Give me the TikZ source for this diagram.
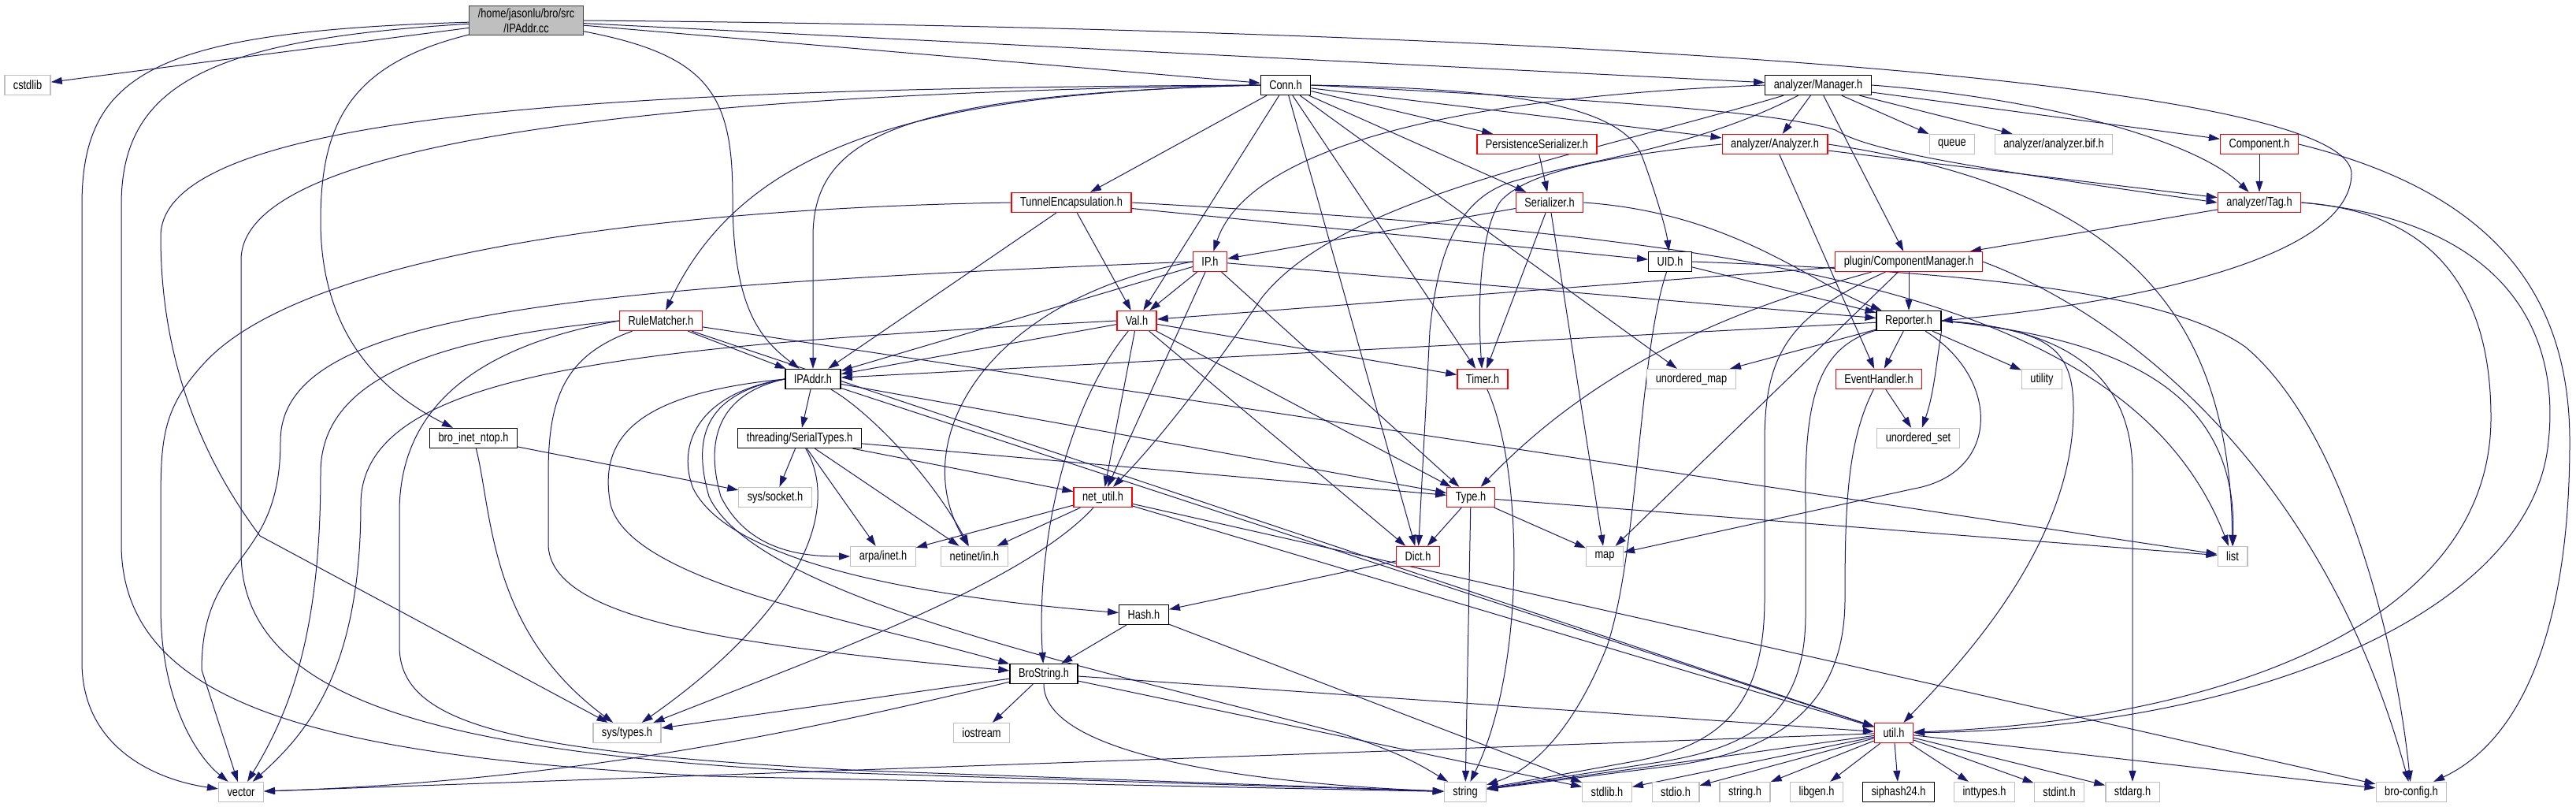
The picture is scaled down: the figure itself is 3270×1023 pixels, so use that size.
\documentclass[tikz,border=0pt]{standalone}
\usepackage{fontspec}
\setmainfont{Liberation Sans}[FakeStretch=0.8]
\usetikzlibrary{arrows.meta,positioning}
\definecolor{incblue}{HTML}{191970}
\definecolor{sysgray}{HTML}{BFBFBF}
\pgfdeclarelayer{edges}
\pgfsetlayers{edges,main}

\begin{document}
\begin{tikzpicture}[
  x=1pt, y=-1pt,
  font=\fontsize{16}{19}\selectfont,
  hdr/.style={draw, line width=1.3pt, fill=white, minimum height=25pt,
              inner xsep=11pt, inner ysep=0pt},
  sysbox/.style={hdr, draw=sysgray},
  redbox/.style={hdr, draw=red},
  blkbox/.style={hdr, draw=black},
  rootbox/.style={hdr, fill=sysgray, draw=black!75, align=center, inner ysep=3pt},
  inc/.style={draw=incblue, line width=1pt, -{Triangle[length=14pt,width=9pt]}},
]
\useasboundingbox (0,0) rectangle (3270,1023);

% ---------------- rows ----------------
\def\yA{26}
\def\yB{108}
\def\yC{183}
\def\yD{257}
\def\yE{332}
\def\yF{407}
\def\yG{481}
\def\yH{556}
\def\yI{631}
\def\yJ{706}
\def\yK{780}
\def\yL{855}
\def\yM{930}
\def\yN{1005}

% ---------------- files ----------------
\node[rootbox] (cc) at (668,\yA) {/home/jasonlu/bro/src\\/IPAddr.cc};

\node[sysbox] (cstdlib) at (35,\yB) {cstdlib};
\node[blkbox] (conn) at (1632,\yB) {Conn.h};
\node[blkbox] (mgr) at (2308,\yB) {analyzer/Manager.h};

\node[redbox] (persist) at (1951,\yC) {PersistenceSerializer.h};
\node[redbox] (analyzer) at (2253,\yC) {analyzer/Analyzer.h};
\node[sysbox] (queue) at (2478,\yC) {queue};
\node[sysbox] (bif) at (2607,\yC) {analyzer/analyzer.bif.h};
\node[redbox] (comp) at (2868,\yC) {Component.h};

\node[redbox] (tunnel) at (1360,\yD) {TunnelEncapsulation.h};
\node[redbox] (ser) at (1967,\yD) {Serializer.h};
\node[redbox] (tag) at (2868,\yD) {analyzer/Tag.h};

\node[redbox] (iph) at (1536,\yE) {IP.h};
\node[blkbox] (uid) at (2120,\yE) {UID.h};
\node[redbox] (compmgr) at (2423,\yE) {plugin/ComponentManager.h};

\node[redbox] (rule) at (839,\yF) {RuleMatcher.h};
\node[redbox] (val) at (1443,\yF) {Val.h};
\node[blkbox] (rep) at (2423,\yF) {Reporter.h};

\node[blkbox] (addrh) at (1032,\yG) {IPAddr.h};
\node[redbox] (timer) at (1882,\yG) {Timer.h};
\node[sysbox] (umap) at (2147,\yG) {unordered\_map};
\node[redbox] (evh) at (2385,\yG) {EventHandler.h};
\node[sysbox] (utility) at (2592,\yG) {utility};

\node[blkbox] (ntop) at (601,\yH) {bro\_inet\_ntop.h};
\node[blkbox] (serial) at (1015,\yH) {threading/SerialTypes.h};
\node[sysbox] (uset) at (2435,\yH) {unordered\_set};

\node[sysbox] (socket) at (984,\yI) {sys/socket.h};
\node[redbox] (netutil) at (1400,\yI) {net\_util.h};
\node[redbox] (typeh) at (1867,\yI) {Type.h};

\node[sysbox] (arpa) at (1121,\yJ) {arpa/inet.h};
\node[sysbox] (netinet) at (1237,\yJ) {netinet/in.h};
\node[redbox] (dict) at (1800,\yJ) {Dict.h};
\node[sysbox] (map) at (2037,\yJ) {map};
\node[sysbox] (list) at (2834,\yJ) {list};

\node[blkbox] (hash) at (1452,\yK) {Hash.h};
\node[blkbox] (bstr) at (1325,\yL) {BroString.h};

\node[sysbox] (systypes) at (796,\yM) {sys/types.h};
\node[sysbox] (iostream) at (1246,\yM) {iostream};
\node[redbox] (util) at (2404,\yM) {util.h};

\node[sysbox] (vector) at (306,\yN) {vector};
\node[sysbox] (string) at (1860,\yN) {string};
\node[sysbox] (stdlib) at (2040,\yN) {stdlib.h};
\node[sysbox] (stdio) at (2127,\yN) {stdio.h};
\node[sysbox] (strh) at (2215,\yN) {string.h};
\node[sysbox] (libgen) at (2306,\yN) {libgen.h};
\node[blkbox] (siphash) at (2410,\yN) {siphash24.h};
\node[sysbox] (inttypes) at (2519,\yN) {inttypes.h};
\node[sysbox] (stdint) at (2614,\yN) {stdint.h};
\node[sysbox] (stdarg) at (2707,\yN) {stdarg.h};
\node[sysbox] (cfg) at (3061,\yN) {bro-config.h};

\begin{pgfonlayer}{edges}
% ---------------- IPAddr.cc ----------------
\draw[inc] (cc) -- (cstdlib);
\draw[inc] (cc) -- (conn);
\draw[inc] (cc) -- (mgr);
\draw[inc] (cc.east) .. controls (1800,35) and (2980,90) .. (2985,220)
  .. controls (2985,330) and (2700,385) .. (rep.east);
\draw[inc] (cc) .. controls (900,70) and (930,120) .. (930,250)
  .. controls (930,390) and (965,430) .. (addrh);
\draw[inc] (cc) .. controls (450,80) and (407,150) .. (407,280)
  .. controls (407,430) and (490,500) .. (ntop);
\draw[inc] (cc) .. controls (200,40) and (104,90) .. (104,260) -- (104,840)
  .. controls (104,950) and (200,990) .. (vector);
\draw[inc] (cc) .. controls (260,50) and (154,110) .. (154,260) -- (154,690)
  .. controls (154,900) and (420,960) .. (900,985) -- (string);

% ---------------- Conn.h ----------------
\draw[inc] (conn) -- (tunnel);
\draw[inc] (conn) -- (persist);
\draw[inc] (conn) -- (ser);
\draw[inc] (conn) -- (analyzer);
\draw[inc] (conn.east) .. controls (2000,125) and (2250,140) .. (2330,165)
  .. controls (2370,190) and (2480,210) .. (tag.west);
\draw[inc] (conn.east) .. controls (1900,112) and (2060,130) .. (2085,200)
  .. controls (2100,240) and (2115,290) .. (uid);
\draw[inc] (conn) -- (umap);
\draw[inc] (conn) -- (timer);
\draw[inc] (conn) -- (dict);
\draw[inc] (conn) -- (val);
\draw[inc] (conn.west) .. controls (1150,120) and (1032,170) .. (1032,300) -- (addrh);
\draw[inc] (conn.west) .. controls (1200,118) and (950,170) .. (rule);
\draw[inc] (conn.west) .. controls (800,112) and (204,140) .. (204,300)
  .. controls (204,430) and (240,560) .. (330,680) -- (systypes);
\draw[inc] (conn.west) .. controls (900,118) and (306,170) .. (306,330) -- (306,700)
  .. controls (306,890) and (560,955) .. (1050,980) -- (string);

% ---------------- TunnelEncapsulation.h ----------------
\draw[inc] (tunnel) -- (val);
\draw[inc] (tunnel) -- (addrh);
\draw[inc] (tunnel) -- (uid);
\draw[inc] (tunnel.east) .. controls (2200,300) and (2700,360) .. (list);
\draw[inc] (tunnel.west) .. controls (800,265) and (380,330) .. (260,460)
  .. controls (204,520) and (204,560) .. (204,650) -- (204,770)
  .. controls (204,890) and (250,960) .. (vector);

% ---------------- analyzer ----------------
\draw[inc] (persist) -- (ser);
\draw[inc] (analyzer) -- (tag);
\draw[inc] (analyzer.west) .. controls (2020,200) and (1935,222) .. (1905,255)
  .. controls (1880,290) and (1875,380) .. (timer);
\draw[inc] (analyzer) -- (evh);
\draw[inc] (analyzer.east) .. controls (2700,240) and (2830,400) .. (list);

\draw[inc] (mgr) -- (analyzer);
\draw[inc] (mgr) -- (queue);
\draw[inc] (mgr) -- (bif);
\draw[inc] (mgr) -- (comp);
\draw[inc] (mgr.east) .. controls (2600,125) and (2790,180) .. (tag);
\draw[inc] (mgr) -- (compmgr);
\draw[inc] (mgr.west) .. controls (1800,125) and (1580,200) .. (iph);
\draw[inc] (mgr) .. controls (2000,200) and (1700,250) .. (1600,380)
  .. controls (1540,470) and (1470,560) .. (netutil);
\draw[inc] (mgr) .. controls (2150,190) and (2000,205) .. (1915,232)
  .. controls (1850,255) and (1825,320) .. (1815,420) -- (dict);

\draw[inc] (comp) -- (tag);
\draw[inc] (comp.east) .. controls (3150,240) and (3262,360) .. (3262,560)
  .. controls (3262,800) and (3200,940) .. (cfg);

\draw[inc] (tag) -- (compmgr);
\draw[inc] (tag.east) .. controls (3100,270) and (3162,380) .. (3162,530)
  .. controls (3162,800) and (2800,915) .. (util);
\draw[inc] (tag.east) .. controls (3180,280) and (3250,420) .. (3235,560)
  .. controls (3215,780) and (2850,925) .. (util);

% ---------------- Serializer.h, IP.h, UID.h ----------------
\draw[inc] (ser) -- (iph);
\draw[inc] (ser) -- (timer);
\draw[inc] (ser) -- (map);
\draw[inc] (ser.east) .. controls (2200,270) and (2300,360) .. (rep);

\draw[inc] (iph) -- (addrh);
\draw[inc] (iph) -- (val);
\draw[inc] (iph) -- (netutil);
\draw[inc] (iph.west) .. controls (1250,380) and (1150,560) .. (netinet);
\draw[inc] (iph) -- (rep);
\draw[inc] (iph) -- (typeh);
\draw[inc] (iph.west) .. controls (700,365) and (356,400) .. (356,560)
  .. controls (356,720) and (256,700) .. (256,850) -- (vector);

\draw[inc] (uid) -- (rep);
\draw[inc] (uid) .. controls (2080,450) and (2080,700) .. (2040,820)
  .. controls (2000,920) and (1950,975) .. (string);
\draw[inc] (uid.east) .. controls (2500,345) and (2750,370) .. (2850,440)
  .. controls (2970,540) and (3040,800) .. (cfg);

% ---------------- plugin/ComponentManager.h ----------------
\draw[inc] (compmgr) -- (rep);
\draw[inc] (compmgr) -- (val);
\draw[inc] (compmgr) .. controls (2250,380) and (2050,440) .. (typeh);
\draw[inc] (compmgr) -- (map);
\draw[inc] (compmgr) .. controls (2270,400) and (2240,450) .. (2240,560) -- (2240,760)
  .. controls (2240,900) and (2180,945) .. (2080,965) -- (string);
\draw[inc] (compmgr.east) .. controls (2700,400) and (2950,600) .. (cfg);

% ---------------- RuleMatcher.h, Val.h ----------------
\draw[inc] (rule) -- (addrh);
\draw[inc] (rule.west) .. controls (550,430) and (407,480) .. (407,600)
  .. controls (407,800) and (370,900) .. (vector);
\draw[inc] (rule.west) .. controls (600,440) and (507,520) .. (507,650) -- (507,820)
  .. controls (507,920) and (650,955) .. (1100,978) -- (string);
\draw[inc] (rule) .. controls (720,450) and (696,500) .. (696,600) -- (696,690)
  .. controls (696,790) and (950,820) .. (bstr);
\draw[inc] (rule) -- (list);
\draw[inc] (rule) -- (util);

\draw[inc] (val) -- (addrh);
\draw[inc] (val) -- (netutil);
\draw[inc] (val) .. controls (1350,520) and (1315,700) .. (bstr);
\draw[inc] (val) -- (typeh);
\draw[inc] (val) -- (dict);
\draw[inc] (val) -- (timer);
\draw[inc] (val.west) .. controls (800,440) and (458,470) .. (458,640)
  .. controls (458,850) and (390,930) .. (vector);

% ---------------- Reporter.h ----------------
\draw[inc] (rep) -- (addrh);
\draw[inc] (rep) -- (umap);
\draw[inc] (rep) -- (evh);
\draw[inc] (rep) -- (utility);
\draw[inc] (rep.south east) .. controls (2458,460) and (2455,500) .. (uset);
\draw[inc] (rep.east) .. controls (2700,430) and (2840,500) .. (list);
\draw[inc] (rep) .. controls (2540,480) and (2540,600) .. (2430,620) -- (map);
\draw[inc] (rep) .. controls (2310,440) and (2290,500) .. (2292,640) -- (2292,780)
  .. controls (2292,910) and (2220,950) .. (2100,968) -- (string);
\draw[inc] (rep.east) .. controls (2600,418) and (2632,440) .. (2632,520)
  .. controls (2632,700) and (2470,860) .. (util);
\draw[inc] (rep.east) .. controls (2600,415) and (2707,460) .. (2707,600) -- (stdarg);

\draw[inc] (evh) -- (uset);
\draw[inc] (evh) .. controls (2345,560) and (2342,640) .. (2342,760)
  .. controls (2342,900) and (2250,955) .. (2120,972) -- (string);

% ---------------- IPAddr.h ----------------
\draw[inc] (addrh) -- (serial);
\draw[inc] (addrh) .. controls (1100,520) and (1180,600) .. (netinet);
\draw[inc] (addrh) -- (typeh);
\draw[inc] (addrh) -- (util);
\draw[inc] (addrh.west) .. controls (910,500) and (895,560) .. (915,630)
  .. controls (950,700) and (1020,706) .. (arpa.west);
\draw[inc] (addrh.west) .. controls (880,500) and (860,570) .. (880,620)
  .. controls (930,720) and (1200,760) .. (hash);
\draw[inc] (addrh.west) .. controls (800,500) and (760,560) .. (775,640)
  .. controls (800,740) and (1100,790) .. (bstr);
\draw[inc] (addrh.west) .. controls (890,500) and (880,560) .. (900,630)
  .. controls (960,760) and (1400,850) .. (1700,930)
  .. controls (1780,955) and (1810,975) .. (string);

% ---------------- lower headers ----------------
\draw[inc] (serial) -- (socket);
\draw[inc] (serial) -- (typeh);
\draw[inc] (serial) -- (netutil);
\draw[inc] (serial) -- (arpa);
\draw[inc] (serial) -- (netinet);
\draw[inc] (serial) .. controls (1070,650) and (1010,780) .. (systypes);

\draw[inc] (ntop) -- (socket);
\draw[inc] (ntop) .. controls (625,650) and (620,800) .. (systypes);

\draw[inc] (netutil) -- (arpa);
\draw[inc] (netutil) -- (netinet);
\draw[inc] (netutil) .. controls (1300,740) and (1050,830) .. (systypes);
\draw[inc] (netutil) -- (util);
\draw[inc] (netutil) -- (cfg);

\draw[inc] (typeh) -- (dict);
\draw[inc] (typeh) -- (map);
\draw[inc] (typeh) -- (list);
\draw[inc] (typeh) -- (string);

\draw[inc] (timer) .. controls (1935,600) and (1936,850) .. (string);

\draw[inc] (dict) -- (hash);
\draw[inc] (hash) -- (bstr);
\draw[inc] (hash) -- (stdlib);

\draw[inc] (bstr) -- (iostream);
\draw[inc] (bstr) -- (systypes);
\draw[inc] (bstr) .. controls (1050,920) and (750,990) .. (vector);
\draw[inc] (bstr) .. controls (1325,960) and (1600,995) .. (string);
\draw[inc] (bstr) -- (util);
\draw[inc] (bstr) -- (stdlib);

% ---------------- util.h ----------------
\draw[inc] (util) -- (string);
\draw[inc] (util) -- (stdlib);
\draw[inc] (util) -- (stdio);
\draw[inc] (util) -- (strh);
\draw[inc] (util) -- (libgen);
\draw[inc] (util) -- (siphash);
\draw[inc] (util) -- (inttypes);
\draw[inc] (util) -- (stdint);
\draw[inc] (util) -- (stdarg);
\draw[inc] (util) -- (cfg);
\draw[inc] (util) -- (vector);
\end{pgfonlayer}

\end{tikzpicture}
\end{document}
